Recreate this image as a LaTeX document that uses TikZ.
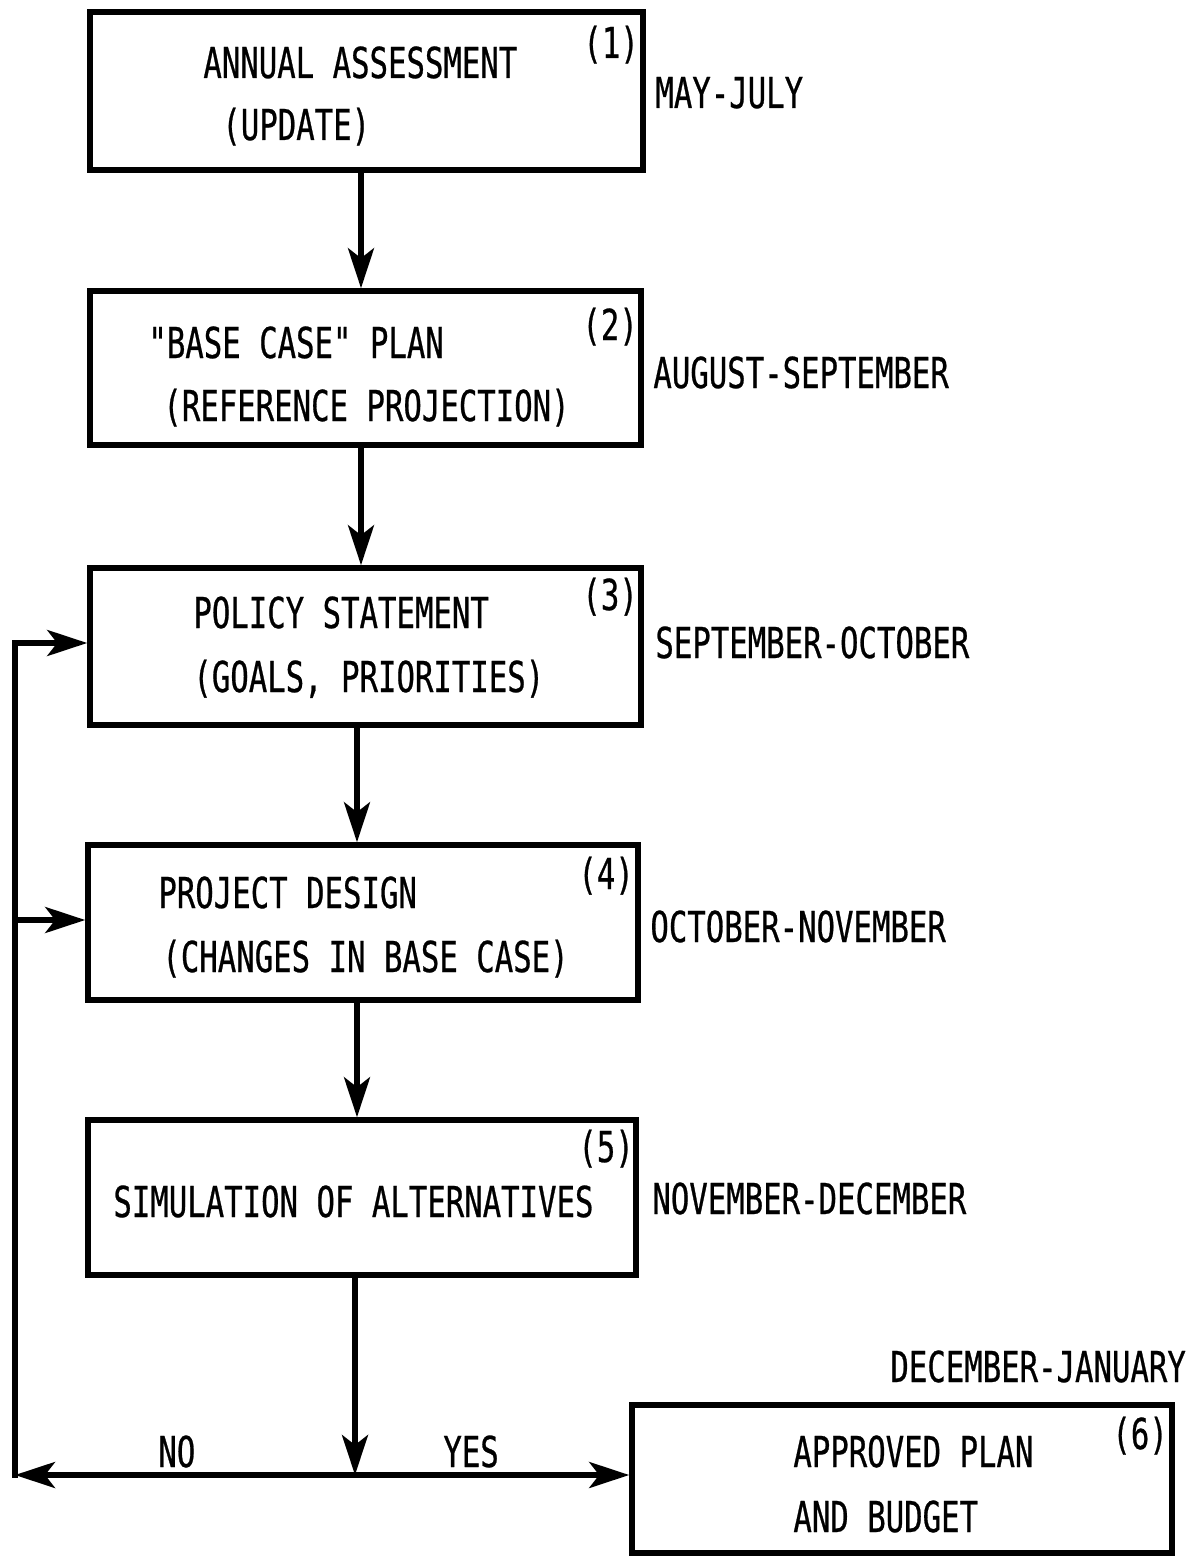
\documentclass[tikz,border=0pt]{standalone}
\usepackage{fontspec}
\newfontfamily\typo{DejaVu Sans Mono}[FakeStretch=0.72,FakeBold=0.6]
\usetikzlibrary{arrows.meta}
\begin{document}
\begin{tikzpicture}[x=0.5pt,y=-0.5pt,
  stagebox/.style={draw, line width=2.8pt, rectangle, inner sep=0pt},
  txt/.style={anchor=base west, inner sep=0pt, font=\typo\fontsize{21.3}{25}\selectfont},
  conn/.style={line width=2.6pt, -{Stealth[length=20pt,width=13pt,inset=5pt]}},
  plain/.style={line width=2.6pt}]
\useasboundingbox (0,0) rectangle (1188,1557);

% stage boxes
\node[stagebox, minimum width=276.5pt, minimum height=79pt]   (b1) at (366.5,91) {};
\node[stagebox, minimum width=275.5pt, minimum height=77pt]   (b2) at (365.5,368) {};
\node[stagebox, minimum width=275.5pt, minimum height=78.5pt] (b3) at (365.5,646.5) {};
\node[stagebox, minimum width=275pt, minimum height=77.5pt]   (b4) at (363,922.5) {};
\node[stagebox, minimum width=274pt, minimum height=77.5pt]   (b5) at (362,1197.5) {};
\node[stagebox, minimum width=270pt, minimum height=74pt]     (b6) at (902,1479) {};

% box texts
\node[txt] (t1a) at (203,78)   {ANNUAL ASSESSMENT};
\node[txt] (t1b) at (222,140)  {(UPDATE)};
\node[txt] (n1)  at (583,58)   {(1)};
\node[txt] (t2a) at (148,358)  {"BASE CASE" PLAN};
\node[txt] (t2b) at (163,421)  {(REFERENCE PROJECTION)};
\node[txt] (n2)  at (582,340)  {(2)};
\node[txt] (t3a) at (193,628)  {POLICY STATEMENT};
\node[txt] (t3b) at (193,692)  {(GOALS, PRIORITIES)};
\node[txt] (n3)  at (582,610)  {(3)};
\node[txt] (t4a) at (158,908)  {PROJECT DESIGN};
\node[txt] (t4b) at (162,972)  {(CHANGES IN BASE CASE)};
\node[txt] (n4)  at (578,889)  {(4)};
\node[txt] (t5a) at (113,1217) {SIMULATION OF ALTERNATIVES};
\node[txt] (n5)  at (578,1162) {(5)};
\node[txt] (t6a) at (793,1467) {APPROVED PLAN};
\node[txt] (t6b) at (793,1532) {AND BUDGET};
\node[txt] (n6)  at (1112,1449) {(6)};

% schedule labels
\node[txt] (m1) at (655,108)  {MAY-JULY};
\node[txt] (m2) at (653,388)  {AUGUST-SEPTEMBER};
\node[txt] (m3) at (655,658)  {SEPTEMBER-OCTOBER};
\node[txt] (m4) at (650,942)  {OCTOBER-NOVEMBER};
\node[txt] (m5) at (652,1214) {NOVEMBER-DECEMBER};
\node[txt] (m6) at (890,1382) {DECEMBER-JANUARY};

% decision labels
\node[txt] (no)  at (158,1467) {NO};
\node[txt] (yes) at (443,1467) {YES};

% connector guide points
\coordinate (c12) at (361,0);
\coordinate (c23) at (361,0);
\coordinate (c34) at (357,0);
\coordinate (c45) at (357,0);
\coordinate (j)   at (355,1475);
\coordinate (lc)  at (15,1475);
\coordinate (l3)  at (15,643);
\coordinate (l4)  at (15,920);

% main flow
\draw[conn] (b1.south -| c12) -- (b2.north -| c12);
\draw[conn] (b2.south -| c23) -- (b3.north -| c23);
\draw[conn] (b3.south -| c34) -- (b4.north -| c34);
\draw[conn] (b4.south -| c45) -- (b5.north -| c45);
\draw[conn] (b5.south -| j) -- (j);

% decision branches
\draw[conn] (j) -- (j -| b6.west);
\draw[conn] (j) -- (lc);
\draw[plain, line cap=rect] (lc) -- (l3);
\draw[conn] (l3) -- (l3 -| b3.west);
\draw[conn] (l4) -- (l4 -| b4.west);
\end{tikzpicture}
\end{document}
